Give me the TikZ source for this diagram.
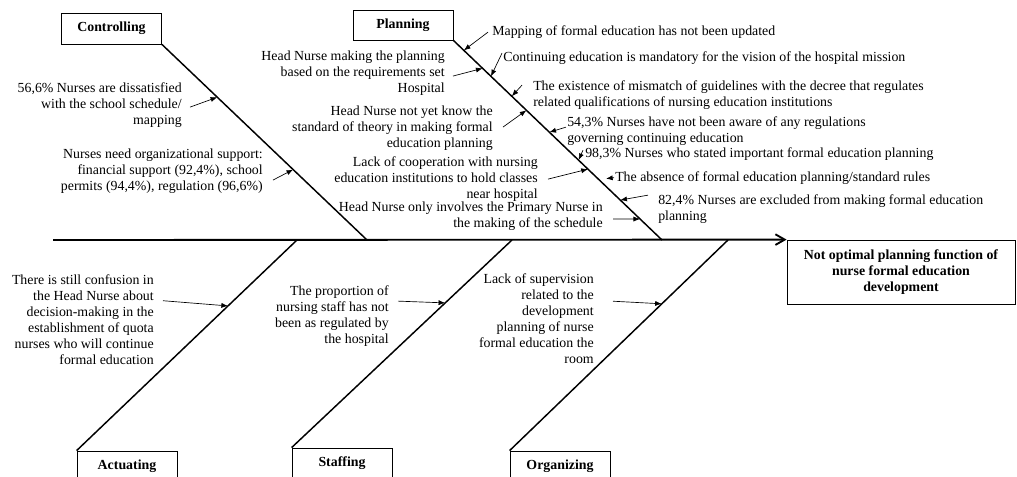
\documentclass[tikz,border=0pt]{standalone}
\usepackage{fontspec}
\setmainfont{Liberation Serif}
\usetikzlibrary{arrows.meta,calc}

\begin{document}
\begin{tikzpicture}[x=0.75pt,y=-0.75pt,
  every node/.style={font=\fontsize{10.4}{12}\selectfont, inner sep=0pt},
  catbox/.style={draw, line width=0.6pt, minimum width=75pt, minimum height=23.25pt, font=\fontsize{10.4}{12}\selectfont\bfseries},
  causel/.style={anchor=north east, align=right},
  causer/.style={anchor=north west, align=left},
  bone/.style={line width=1.1pt},
  spine/.style={line width=1.4pt, -{Straight Barb[length=7pt,width=8pt]}},
  cause/.style={line width=0.5pt, -{Latex[length=5pt,width=3.8pt]}}]

  \useasboundingbox (0,0) rectangle (1017,477);
  \clip (0,0) rectangle (1017,477);

  \node[catbox] (ctl) at (111.5,28.5) {Controlling};
  \node[catbox, minimum height=22.5pt] (pln) at (403,25) {Planning};
  \node[catbox] (act) at (127,466.5) {Actuating};
  \node[catbox] (stf) at (342,463.5) {Staffing};
  \node[catbox] (org) at (560,466.5) {Organizing};
  \node[catbox, minimum width=171pt, minimum height=48pt, align=center] (eff) at (901,272) {Not optimal planning function of\\nurse formal education\\development};

  \coordinate (tail) at (53,240);
  \coordinate (j1) at (367,240);
  \coordinate (j2) at (662,240);
  \coordinate (j3) at (297,240);
  \coordinate (j4) at (512,240);
  \coordinate (j5) at (728,240);

  \draw[spine] (tail) -- (eff.north west);
  \draw[bone] (ctl.south east) -- (j1);
  \draw[bone] (pln.south east) -- (j2);
  \draw[bone] (act.north west) -- (j3);
  \draw[bone] (stf.north west) -- (j4);
  \draw[bone] (org.north west) -- (j5);

  \node[causel] (c1) at (182,82) {56,6\% Nurses are dissatisfied\\with the school schedule/\\mapping};
  \node[causel] (c2) at (263,149) {Nurses need organizational support:\\financial support (92,4\%), school\\permits (94,4\%), regulation (96,6\%)};

  \node[causel] (p1) at (445,51) {Head Nurse making the planning\\based on the requirements set\\Hospital};
  \node[causel] (p2) at (493,106) {Head Nurse not yet know the\\standard of theory in making formal\\education planning};
  \node[causel] (p3) at (538,156) {Lack of cooperation with nursing\\education institutions to hold classes\\near hospital};
  \node[causel] (p4) at (603,202) {Head Nurse only involves the Primary Nurse in\\the making of the schedule};
  \node[causer] (p5) at (492,25) {Mapping of formal education has not been updated};
  \node[causer] (p6) at (503,51) {Continuing education is mandatory for the vision of the hospital mission};
  \node[causer] (p7) at (533,80) {The existence of mismatch of guidelines with the decree that regulates\\related qualifications of nursing education institutions};
  \node[causer] (p8) at (567,116) {54,3\% Nurses have not been aware of any regulations\\governing continuing education};
  \node[causer] (p9) at (585,147) {98,3\% Nurses who stated important formal education planning};
  \node[causer] (p10) at (615,171) {The absence of formal education planning/standard rules};
  \node[causer] (p11) at (658,194) {82,4\% Nurses are excluded from making formal education\\planning};

  \node[causel] (a1) at (154,274) {There is still confusion in\\the Head Nurse about\\decision-making in the\\establishment of quota\\nurses who will continue\\formal education};
  \node[causel] (s1) at (389,285) {The proportion of\\nursing staff has not\\been as regulated by\\the hospital};
  \node[causel] (o1) at (594,273) {Lack of supervision\\related to the\\development\\planning of nurse\\formal education the\\room};

  \coordinate (e1) at ($(ctl.south east)!0.27!(j1)$);
  \coordinate (e2) at ($(ctl.south east)!0.64!(j1)$);
  \coordinate (ep1) at ($(pln.south east)!0.14!(j2)$);
  \coordinate (ep2) at ($(pln.south east)!0.35!(j2)$);
  \coordinate (ep3) at ($(pln.south east)!0.645!(j2)$);
  \coordinate (ep4) at ($(pln.south east)!0.895!(j2)$);
  \coordinate (ep5) at ($(pln.south east)!0.05!(j2)$);
  \coordinate (ep6) at ($(pln.south east)!0.18!(j2)$);
  \coordinate (ep7) at ($(pln.south east)!0.28!(j2)$);
  \coordinate (ep8) at ($(pln.south east)!0.46!(j2)$);
  \coordinate (ep9) at ($(pln.south east)!0.6!(j2)$);
  \coordinate (ep10) at ($(p10.west)+(-9,1)$);
  \coordinate (ep11) at ($(pln.south east)!0.8!(j2)$);
  \coordinate (ea1) at ($(act.north west)!0.687!(j3)$);
  \coordinate (es1) at ($(stf.north west)!0.697!(j4)$);
  \coordinate (eo1) at ($(org.north west)!0.697!(j5)$);

  \path[cause] ($(c1.east)+(8,2.5)$) edge (e1);
  \path[cause] ($(c2.east)+(10,8.5)$) edge (e2);
  \path[cause] ($(p1.east)+(8,2.5)$) edge (ep1);
  \path[cause] ($(p2.east)+(10,-1.5)$) edge (ep2);
  \path[cause] ($(p3.east)+(10,0.5)$) edge (ep3);
  \path[cause] ($(p4.east)+(10,2.5)$) edge (ep4);
  \path[cause] ($(p5.west)+(-4,0.5)$) edge (ep5);
  \path[cause] ($(p6.west)+(-1,-4.5)$) edge (ep6);
  \path[cause] ($(p7.west)+(-11,-9.5)$) edge (ep7);
  \path[cause] ($(p8.west)+(-1,-3.5)$) edge (ep8);
  \path[cause] ($(p9.west)+(-2,-3.5)$) edge (ep9);
  \path[cause] ($(p10.west)+(-1,0)$) edge (ep10);
  \path[cause] ($(p11.west)+(-10,-13.5)$) edge (ep11);
  \path[cause] ($(a1.east)+(9,-18.5)$) edge (ea1);
  \path[cause] ($(s1.east)+(9,-14.5)$) edge (es1);
  \path[cause] ($(o1.east)+(19,-17)$) edge (eo1);

\end{tikzpicture}
\end{document}
